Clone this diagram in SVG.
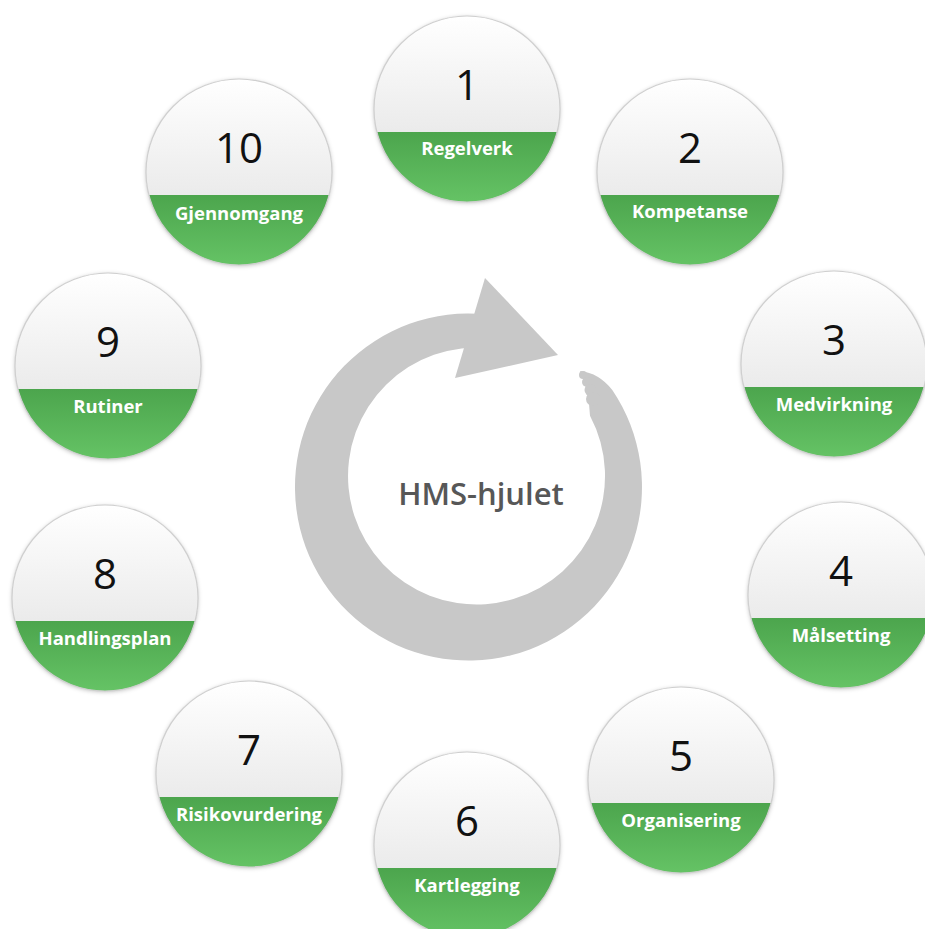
<svg xmlns="http://www.w3.org/2000/svg" width="925" height="929" viewBox="0 0 925 929">
<style>
.num{font-family:"Open Sans","Liberation Sans",sans-serif;font-size:42px;font-weight:500;fill:#111;text-anchor:middle}
.lbl{font-family:"Open Sans","Liberation Sans",sans-serif;font-size:18.5px;font-weight:700;fill:#fff;text-anchor:middle}
.title{font-family:"Open Sans","Liberation Sans",sans-serif;font-size:31px;font-weight:600;fill:#575757;text-anchor:middle}
.base{fill:url(#gTop)}
.band{fill:url(#gGreen)}
.rim{fill:none;stroke:#cfcfcf;stroke-width:1.2}
.ring{fill:#c8c8c8}
</style>
<defs>
<linearGradient id="gTop" x1="0" y1="0" x2="0" y2="1">
<stop offset="0" stop-color="#ffffff"/>
<stop offset="0.62" stop-color="#ebebeb"/>
</linearGradient>
<linearGradient id="gGreen" x1="0" y1="0" x2="0" y2="1">
<stop offset="0" stop-color="#4ca54d"/>
<stop offset="1" stop-color="#65c365"/>
</linearGradient>
<filter id="sh" x="-20%" y="-20%" width="140%" height="140%">
<feDropShadow dx="0" dy="1" stdDeviation="2" flood-color="#000" flood-opacity="0.25"/>
</filter>
<g id="disc">
<circle r="93" class="base" filter="url(#sh)"/>
<path d="M -90.1 23 A 93 93 0 0 0 90.1 23 Z" class="band"/>
<circle r="93" class="rim"/>
</g>
</defs>

<g id="wheel">
<path class="ring" d="M 486.6 314.5 A 173.5 173.5 0 1 0 612.3 390 Q 599 373 580 371 Q 589 390 590 415.7 A 128.5 128.5 0 1 1 489.9 348.2 Z"/>
<polygon class="ring" points="485,278 558,355 455,378"/>
<circle class="ring" cx="583" cy="375" r="4"/>
<circle class="ring" cx="587" cy="382" r="5"/>
<circle class="ring" cx="590.5" cy="390" r="6"/>
<circle class="ring" cx="593" cy="399" r="7"/>
<text class="title" x="481" y="505">HMS-hjulet</text>
</g>

<g id="connectors"></g>

<g id="node1" transform="translate(467,109)"><use href="#disc"/><text class="num" y="-9">1</text><text class="lbl" y="46">Regelverk</text></g>
<g id="node2" transform="translate(690,172)"><use href="#disc"/><text class="num" y="-9">2</text><text class="lbl" y="46">Kompetanse</text></g>
<g id="node3" transform="translate(834,364)"><use href="#disc"/><text class="num" y="-9">3</text><text class="lbl" y="47">Medvirkning</text></g>
<g id="node4" transform="translate(841,595)"><use href="#disc"/><text class="num" y="-9">4</text><text class="lbl" y="47">Målsetting</text></g>
<g id="node5" transform="translate(681,780)"><use href="#disc"/><text class="num" y="-9">5</text><text class="lbl" y="47">Organisering</text></g>
<g id="node6" transform="translate(467,845)"><use href="#disc"/><text class="num" y="-9">6</text><text class="lbl" y="47">Kartlegging</text></g>
<g id="node7" transform="translate(249,774)"><use href="#disc"/><text class="num" y="-9">7</text><text class="lbl" y="47">Risikovurdering</text></g>
<g id="node8" transform="translate(105,598)"><use href="#disc"/><text class="num" y="-9">8</text><text class="lbl" y="47">Handlingsplan</text></g>
<g id="node9" transform="translate(108,366)"><use href="#disc"/><text class="num" y="-9">9</text><text class="lbl" y="47">Rutiner</text></g>
<g id="node10" transform="translate(239,172)"><use href="#disc"/><text class="num" y="-9">10</text><text class="lbl" y="48">Gjennomgang</text></g>
</svg>
